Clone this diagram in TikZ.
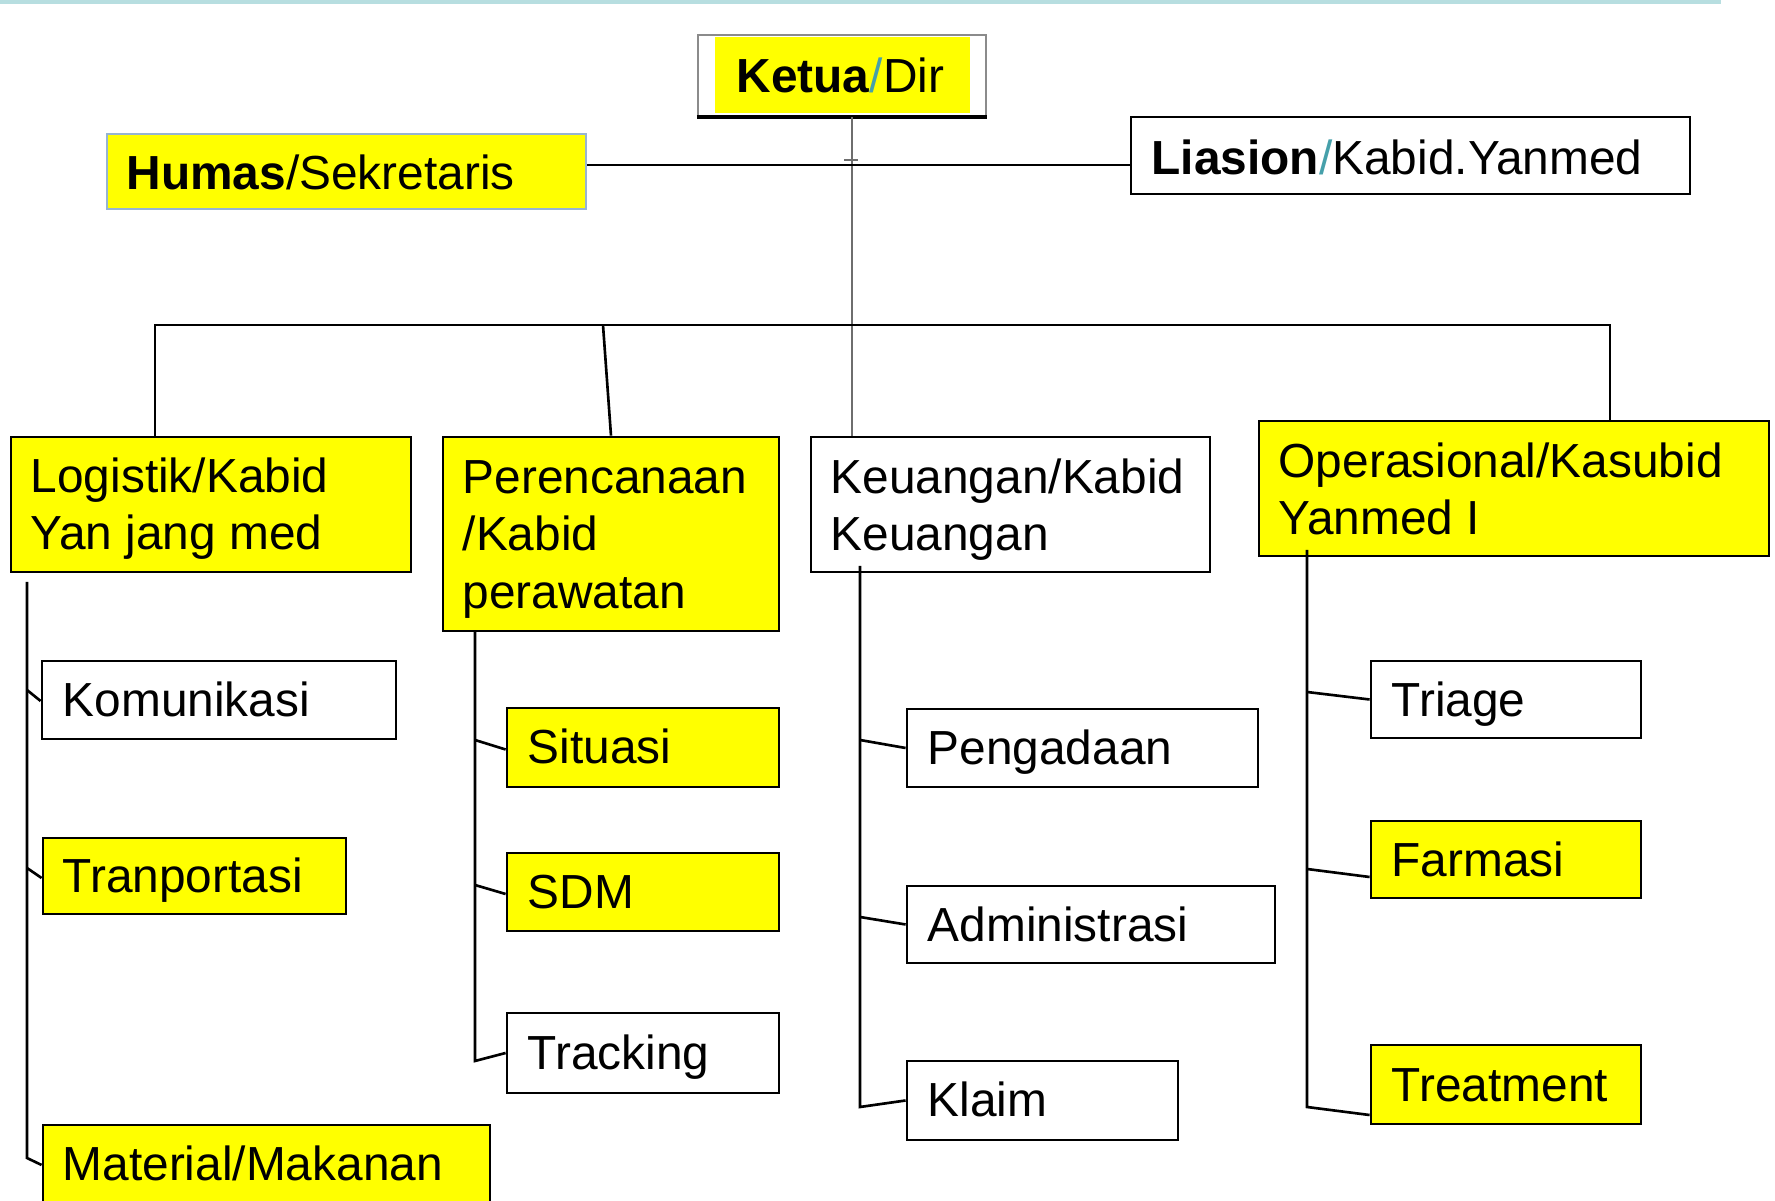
\documentclass[tikz,border=0pt]{standalone}
\usepackage{fontspec}
\setmainfont{Liberation Sans}
\usetikzlibrary{fit}
\definecolor{ylw}{RGB}{255,255,0}
\definecolor{tealc}{RGB}{70,160,170}
\definecolor{barc}{RGB}{183,222,224}
\definecolor{humb}{RGB}{150,180,210}
\definecolor{vline}{RGB}{110,110,110}
\begin{document}
\begin{tikzpicture}[x=0.01cm,y=-0.01cm,
 box/.style={draw=black, line width=0.8pt, inner sep=0pt, fill=white},
 ybox/.style={box, fill=ylw},
 txt/.style={anchor=base west, inner sep=0pt, font=\fontsize{13.6pt}{16pt}\selectfont},
 conn/.style={draw=black, line width=0.75pt},
]
\useasboundingbox (0,0) rectangle (1775,1201);
\clip (0,0) rectangle (1775,1201);
\fill[white] (0,0) rectangle (1775,1201);
\fill[barc] (0,0) rectangle (1721,4);

% top level
\node[draw=vline!80, line width=0.7pt, inner sep=0pt, fit={(698,35)(986,116)}] (ketua) {};
\fill[ylw] (715,37) rectangle (970,113);
\draw[line width=1pt] (ketua.south west) -- (ketua.south east);
\node[txt] (ketuaT) at (736,93) {\textbf{Ketua}\textcolor{tealc}{/}Dir};

\node[draw=humb, fill=ylw, line width=0.8pt, inner sep=0pt, fit={(107,134)(586,209)}] (hum) {};
\node[txt] (humT) at (126,190) {\textbf{Humas}/Sekretaris};
\node[box, fit={(1131,117)(1690,194)}] (lia) {};
\node[txt] (liaT) at (1151,175) {\textbf{Liasion}\textcolor{tealc}{/}Kabid.Yanmed};

\coordinate (vx) at (852,0);
\coordinate (hy) at (0,165);
\coordinate (tick) at (852,160);

% second level
\node[ybox, fit={(11,437)(411,572)}] (log) {};
\node[txt] (logT1) at (30,493) {Logistik/Kabid};
\node[txt] (logT2) at (30,550) {Yan jang med};

\node[ybox, fit={(443,437)(779,631)}] (per) {};
\node[txt] (perT1) at (462,494) {Perencanaan};
\node[txt] (perT2) at (462,551) {/Kabid};
\node[txt] (perT3) at (462,609) {perawatan};

\node[box, fit={(811,437)(1210,572)}] (keu) {};
\node[txt] (keuT1) at (830,494) {Keuangan/Kabid};
\node[txt] (keuT2) at (830,551) {Keuangan};

\node[ybox, fit={(1259,421)(1769,556)}] (ops) {};
\node[txt] (opsT1) at (1278,478) {Operasional/Kasubid};
\node[txt] (opsT2) at (1278,535) {Yanmed I};

\draw[draw=vline, line width=0.8pt] (vx |- ketua.south) -- (vx |- keu.north);
\draw[vline, line width=0.6pt] ([xshift=-0.08cm]tick) -- ([xshift=0.06cm]tick);
\draw[conn] (hum.east |- hy) -- (lia.west |- hy);

% bus
\coordinate (busL) at (155,325);
\coordinate (busR) at (1610,325);
\coordinate (busP) at (603,325);
\draw[conn] (busL |- log.north) -- (busL) -- (busR) -- (busR |- ops.north);
\draw[conn] (busP) -- (per.north);

% third level
\node[box, fit={(42,661)(396,739)}] (kom) {};
\node[txt] (komT) at (62,717) {Komunikasi};
\node[ybox, fit={(43,838)(346,914)}] (tra) {};
\node[txt] (traT) at (62,893) {Tranportasi};
\node[ybox, fit={(43,1125)(490,1215)}] (mat) {};
\node[txt] (matT) at (62,1181) {Material/Makanan};

\node[ybox, fit={(507,708)(779,787)}] (sit) {};
\node[txt] (sitT) at (527,764) {Situasi};
\node[ybox, fit={(507,853)(779,931)}] (sdm) {};
\node[txt] (sdmT) at (527,909) {SDM};
\node[box, fit={(507,1013)(779,1093)}] (trk) {};
\node[txt] (trkT) at (527,1070) {Tracking};

\node[box, fit={(907,709)(1258,787)}] (pen) {};
\node[txt] (penT) at (927,765) {Pengadaan};
\node[box, fit={(907,886)(1275,963)}] (adm) {};
\node[txt] (admT) at (927,942) {Administrasi};
\node[box, fit={(907,1061)(1178,1140)}] (kla) {};
\node[txt] (klaT) at (927,1117) {Klaim};

\node[box, fit={(1371,661)(1641,738)}] (tri) {};
\node[txt] (triT) at (1391,717) {Triage};
\node[ybox, fit={(1371,821)(1641,898)}] (far) {};
\node[txt] (farT) at (1391,877) {Farmasi};
\node[ybox, fit={(1371,1045)(1641,1124)}] (trt) {};
\node[txt] (trtT) at (1391,1102) {Treatment};

% trunks
\coordinate (t1a) at (27,582);
\coordinate (t1k) at (27,690);
\coordinate (t1t) at (27,868);
\coordinate (t1b) at (27,1158);
\draw[conn] (t1a) -- (t1b) -- ([yshift=0.05cm]mat.west);
\draw[conn] (t1k) -- ([yshift=-0.01cm]kom.west);
\draw[conn] (t1t) -- ([yshift=-0.02cm]tra.west);

\coordinate (t2a) at (475,631);
\coordinate (t2s) at (475,740);
\coordinate (t2d) at (475,885);
\coordinate (t2b) at (475,1061);
\draw[conn] (t2a) -- (t2b) -- (trk.west);
\draw[conn] (t2s) -- ([yshift=-0.02cm]sit.west);
\draw[conn] (t2d) -- ([yshift=-0.02cm]sdm.west);

\coordinate (t3a) at (860,566);
\coordinate (t3p) at (860,740);
\coordinate (t3d) at (860,917);
\coordinate (t3b) at (860,1107);
\draw[conn] (t3a) -- (t3b) -- (kla.west);
\draw[conn] (t3p) -- (pen.west);
\draw[conn] (t3d) -- (adm.west);

\coordinate (t4a) at (1307,550);
\coordinate (t4r) at (1307,692);
\coordinate (t4f) at (1307,869);
\coordinate (t4b) at (1307,1107);
\draw[conn] (t4a) -- (t4b) -- ([yshift=-0.305cm]trt.west);
\draw[conn] (t4r) -- (tri.west);
\draw[conn] (t4f) -- ([yshift=-0.175cm]far.west);
\end{tikzpicture}
\end{document}
